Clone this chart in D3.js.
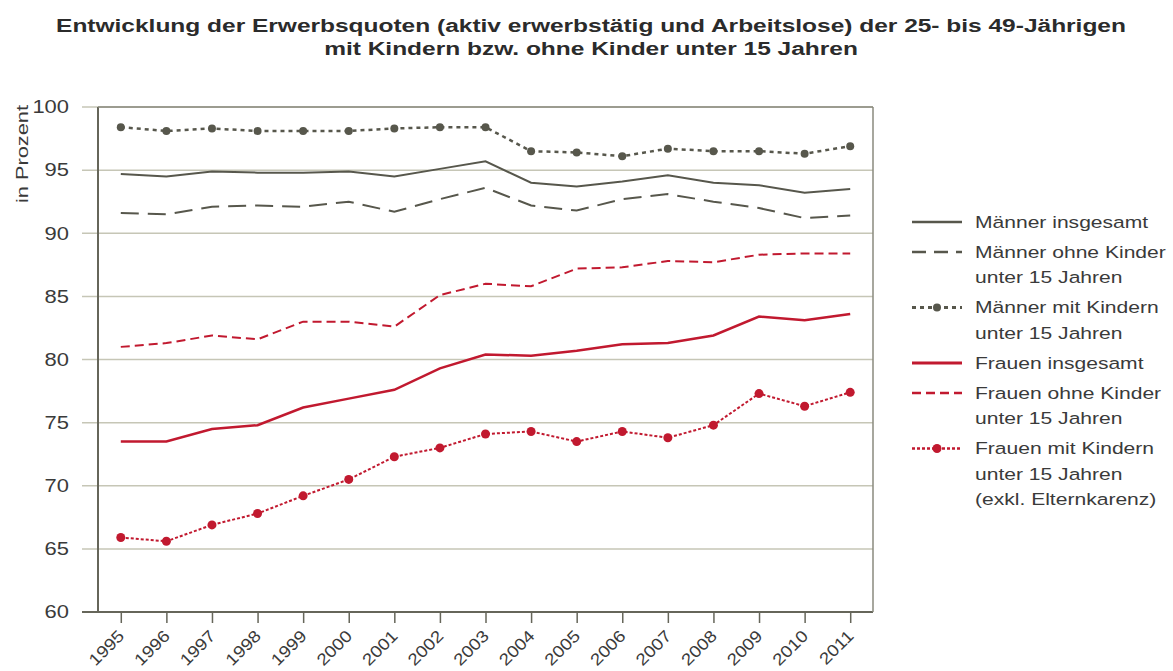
<!DOCTYPE html>
<html>
<head>
<meta charset="utf-8">
<script src="https://cdn.jsdelivr.net/npm/d3@7"></script>
<style>
  body { margin: 0; background: #fff; }
  svg { font-family: "Liberation Sans", Arial, sans-serif; }
</style>
</head>
<body>
<svg id="chart" width="1173" height="671"></svg>
<script>
// data
const years = [1995, 1996, 1997, 1998, 1999, 2000, 2001, 2002, 2003, 2004, 2005, 2006, 2007, 2008, 2009, 2010, 2011];
const maennerGesamt = [94.7, 94.5, 94.9, 94.8, 94.8, 94.9, 94.5, 95.1, 95.7, 94.0, 93.7, 94.1, 94.6, 94.0, 93.8, 93.2, 93.5];
const maennerOhne = [91.6, 91.5, 92.1, 92.2, 92.1, 92.5, 91.7, 92.7, 93.6, 92.2, 91.8, 92.7, 93.1, 92.5, 92.0, 91.2, 91.4];
const maennerMit = [98.4, 98.1, 98.3, 98.1, 98.1, 98.1, 98.3, 98.4, 98.4, 96.5, 96.4, 96.1, 96.7, 96.5, 96.5, 96.3, 96.9];
const frauenGesamt = [73.5, 73.5, 74.5, 74.8, 76.2, 76.9, 77.6, 79.3, 80.4, 80.3, 80.7, 81.2, 81.3, 81.9, 83.4, 83.1, 83.6];
const frauenOhne = [81.0, 81.3, 81.9, 81.6, 83.0, 83.0, 82.6, 85.1, 86.0, 85.8, 87.2, 87.3, 87.8, 87.7, 88.3, 88.4, 88.4];
const frauenMit = [65.9, 65.6, 66.9, 67.8, 69.2, 70.5, 72.3, 73.0, 74.1, 74.3, 73.5, 74.3, 73.8, 74.8, 77.3, 76.3, 77.4];
const yTicks = [60, 65, 70, 75, 80, 85, 90, 95, 100];
const titleLines = ["Entwicklung der Erwerbsquoten (aktiv erwerbstätig und Arbeitslose) der 25- bis 49-Jährigen",
                    "mit Kindern bzw. ohne Kinder unter 15 Jahren"];

const GRAY = "#57574c", RED = "#c1192f";
const TEXT = "#3a3a3a";
const STRETCH = 1.28; // the original type is set wide

const series = [
  { name: ["Männer insgesamt"], values: maennerGesamt, color: GRAY, width: 2, dash: null, dots: false, r: 0 },
  { name: ["Männer ohne Kinder", "unter 15 Jahren"], values: maennerOhne, color: GRAY, width: 2, dash: "18,9", dots: false, r: 0 },
  { name: ["Männer mit Kindern", "unter 15 Jahren"], values: maennerMit, color: GRAY, width: 2.5, dash: "4,4", dots: true, r: 4 },
  { name: ["Frauen insgesamt"], values: frauenGesamt, color: RED, width: 2.5, dash: null, dots: false, r: 0 },
  { name: ["Frauen ohne Kinder", "unter 15 Jahren"], values: frauenOhne, color: RED, width: 2, dash: "9,5", dots: false, r: 0 },
  { name: ["Frauen mit Kindern", "unter 15 Jahren", "(exkl. Elternkarenz)"], values: frauenMit, color: RED, width: 2, dash: "3,2", dots: true, r: 4.5 }
];

const svg = d3.select("#chart");
const margin = { top: 107, right: 300, bottom: 59, left: 98 };
const width = 1173, height = 671;

const x = d3.scalePoint().domain(years).range([margin.left, width - margin.right]).padding(0.5);
const y = d3.scaleLinear().domain([60, 100]).range([height - margin.bottom, margin.top]);

// title
svg.append("g").attr("class", "title")
  .selectAll("text")
  .data(titleLines)
  .join("text")
    .attr("transform", (d, i) => `translate(591,${32 + i * 23}) scale(${STRETCH + 0.01},1)`)
    .attr("text-anchor", "middle")
    .attr("font-size", 19)
    .attr("font-weight", "bold")
    .attr("fill", "#2b2b2b")
    .text(d => d);

// grid
svg.append("g")
  .selectAll("line")
  .data(yTicks)
  .join("line")
    .attr("x1", margin.left - 16)
    .attr("x2", width - margin.right)
    .attr("y1", d => y(d))
    .attr("y2", d => y(d))
    .attr("stroke", d => d === 60 ? "#66665a" : "#c6c6b6")
    .attr("stroke-width", d => d === 60 ? 2 : 1.5);

// frame
svg.append("line")
  .attr("x1", margin.left).attr("x2", margin.left)
  .attr("y1", margin.top).attr("y2", y(60))
  .attr("stroke", "#66665a").attr("stroke-width", 2);
svg.append("line")
  .attr("x1", width - margin.right).attr("x2", width - margin.right)
  .attr("y1", margin.top).attr("y2", y(60))
  .attr("stroke", "#8a8a7e").attr("stroke-width", 1.5);
svg.append("line")
  .attr("x1", margin.left).attr("x2", width - margin.right)
  .attr("y1", margin.top).attr("y2", margin.top)
  .attr("stroke", "#8a8a7e").attr("stroke-width", 1.5);

// y axis labels
const yAxis = d3.axisLeft(y).tickValues(yTicks).tickSize(0);
svg.append("g")
  .attr("transform", `translate(${margin.left},0)`)
  .call(yAxis)
  .call(g => g.select(".domain").remove())
  .call(g => g.selectAll("text")
    .attr("x", 0)
    .attr("transform", "translate(-29,0) scale(1.22,1)")
    .attr("font-size", 18)
    .attr("fill", TEXT)
    .attr("font-family", "Liberation Sans, Arial, sans-serif"));

svg.append("text")
  .attr("transform", `translate(28,154) rotate(-90) scale(${STRETCH},1)`)
  .attr("text-anchor", "middle")
  .attr("font-size", 17)
  .attr("fill", TEXT)
  .text("in Prozent");

// x axis
const xAxis = d3.axisBottom(x).tickSize(11);
svg.append("g")
  .attr("transform", `translate(0,${y(60)})`)
  .call(xAxis)
  .call(g => g.select(".domain").remove())
  .call(g => g.selectAll(".tick line").attr("stroke", "#66665a").attr("stroke-width", 1.5))
  .call(g => g.selectAll("text")
    .attr("y", 0)
    .attr("dy", 0)
    .attr("font-size", 16.5)
    .attr("fill", TEXT)
    .attr("font-family", "Liberation Sans, Arial, sans-serif")
    .attr("text-anchor", "end")
    .attr("transform", "translate(4,25) rotate(-45) scale(1.15,1)"));

// lines
const line = d3.line().x((d, i) => x(years[i])).y(d => y(d));

const plot = svg.append("g").attr("class", "series");
series.forEach(s => {
  plot.append("path")
    .datum(s.values)
    .attr("d", line)
    .attr("fill", "none")
    .attr("stroke", s.color)
    .attr("stroke-width", s.width)
    .attr("stroke-dasharray", s.dash);
  if (s.dots) {
    plot.append("g")
      .selectAll("circle")
      .data(s.values)
      .join("circle")
        .attr("cx", (d, i) => x(years[i]))
        .attr("cy", d => y(d))
        .attr("r", s.r)
        .attr("fill", s.color);
  }
});

// legend
const legend = svg.append("g").attr("class", "legend");
let ly = 222;
series.forEach(s => {
  const g = legend.append("g").attr("transform", `translate(912,${ly})`);
  g.append("line")
    .attr("x1", 0).attr("x2", 50)
    .attr("stroke", s.color)
    .attr("stroke-width", s.width + 0.5)
    .attr("stroke-dasharray", s.dash === "18,9" ? "14,8" : s.dash);
  if (s.dots) g.append("circle").attr("cx", 25).attr("r", s.r).attr("fill", s.color);
  g.selectAll("text")
    .data(s.name)
    .join("text")
      .attr("transform", (d, i) => `translate(63,${i * 25.5}) scale(1.24,1)`)
      .attr("dy", "0.35em")
      .attr("font-size", 17)
      .attr("fill", TEXT)
      .text(d => d);
  ly += (s.name.length - 1) * 25.5 + 30;
});
</script>
</body>
</html>
